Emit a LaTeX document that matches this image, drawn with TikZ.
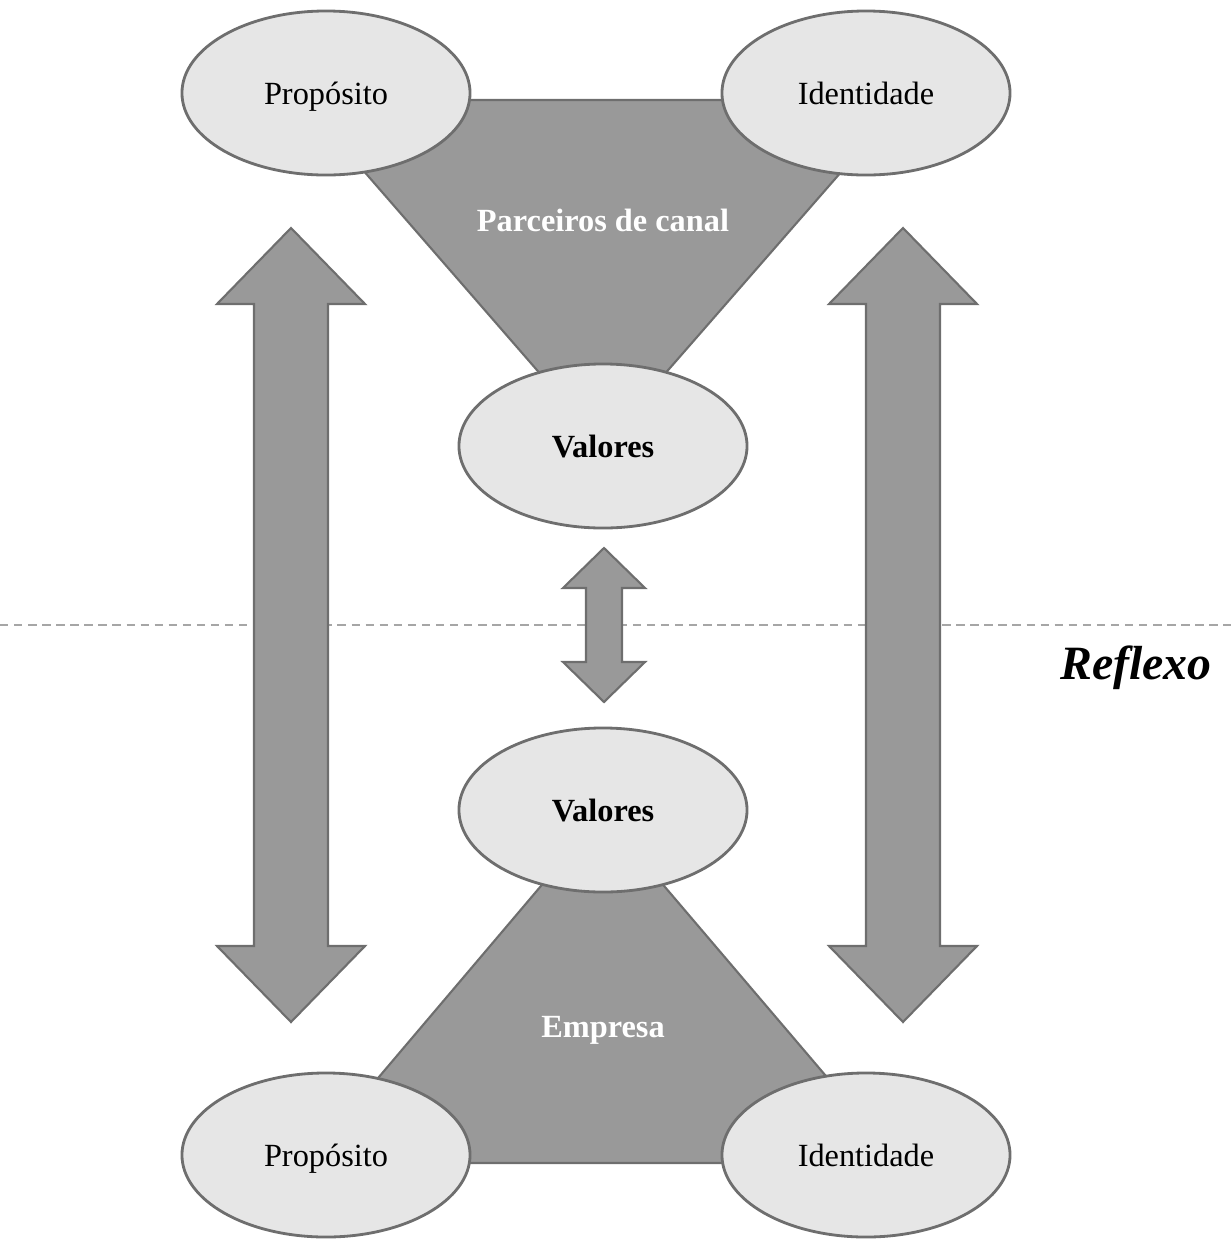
\documentclass[tikz,border=0pt]{standalone}
\usepackage{fontspec}
\setmainfont{Liberation Serif}
\usepackage{xcolor}
\usetikzlibrary{positioning, shapes.geometric}

\definecolor{ovalfill}{HTML}{E6E6E6}
\definecolor{edgegray}{HTML}{6E6E6E}
\definecolor{blockfill}{HTML}{999999}

\begin{document}
\begin{tikzpicture}[
  x=0.025cm, y=-0.025cm,
  font=\fontsize{23}{27}\selectfont,
  oval/.style={
    ellipse,
    draw=edgegray,
    fill=ovalfill,
    line width=2pt,
    minimum width=7.2cm,
    minimum height=4.1cm,
    text height=16pt,
    text depth=0pt,
    inner sep=0pt
  },
  block/.style={
    fill=blockfill,
    draw=edgegray,
    line width=1.5pt,
    line join=miter
  },
  bigarrow/.style={
    fill=blockfill,
    draw=edgegray,
    line width=1.5pt,
    line join=miter
  },
  inside/.style={text=white, font=\fontsize{23}{27}\selectfont\bfseries}
]

\useasboundingbox (0,0) rectangle (1231,1239);

% Reflection line
\draw[gray!70, line width=1.2pt, dash pattern=on 6pt off 4pt] (0,625) -- (1231,625);
\node[font=\fontsize{34}{40}\selectfont\bfseries\itshape] (reflexo) at (1136,668) {Reflexo};

% Triangles
\draw[block] (302,100) -- (904,100) -- (642,400) -- (563,400) -- cycle;
\draw[block] (306,1163) -- (900,1163) -- (642,860) -- (563,860) -- cycle;
\node[inside] (parceiros) at (603,220) {Parceiros de canal};
\node[inside] (empresa) at (603,1030) {Empresa};

% Side arrows
\foreach \cx in {291,903} {
  \draw[bigarrow] (\cx,228) -- (\cx+74,304) -- (\cx+37,304) -- (\cx+37,946)
    -- (\cx+74,946) -- (\cx,1022) -- (\cx-74,946) -- (\cx-37,946)
    -- (\cx-37,304) -- (\cx-74,304) -- cycle;
}

% Ellipses
\node[oval] (propT) at (326,93) {Propósito};
\node[oval] (identT) at (866,93) {Identidade};
\node[oval, font=\fontsize{23}{27}\selectfont\bfseries] (valT) at (603,446) {Valores};
\node[oval, font=\fontsize{23}{27}\selectfont\bfseries] (valB) at (603,810) {Valores};
\node[oval] (propB) at (326,1155) {Propósito};
\node[oval] (identB) at (866,1155) {Identidade};

% Small arrow between the two Valores
\draw[bigarrow] (604,548) -- (645,588) -- (622,588) -- (622,662) -- (645,662)
  -- (604,702) -- (563,662) -- (586,662) -- (586,588) -- (563,588) -- cycle;

\end{tikzpicture}
\end{document}
